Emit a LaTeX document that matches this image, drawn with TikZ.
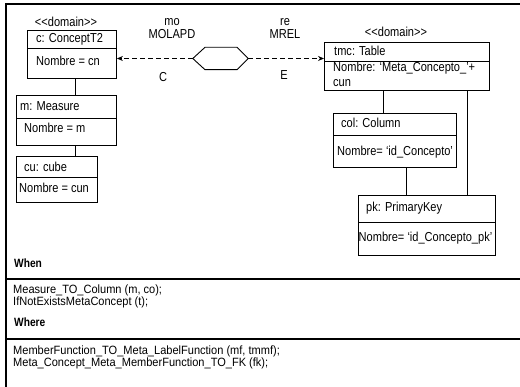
\documentclass[tikz,border=0pt]{standalone}
\usepackage{fontspec}
\setmainfont[FakeStretch=0.85]{Liberation Sans}
\newfontfamily\blockfont[FakeStretch=0.92]{Liberation Sans}
\usetikzlibrary{arrows.meta}
\tikzset{
  lbl/.style={anchor=base west, inner sep=0pt, font=\fontsize{13}{15}\selectfont},
  clbl/.style={anchor=base, inner sep=0pt, font=\fontsize{13}{15}\selectfont},
  rule/.style={anchor=base west, inner sep=0pt, font=\blockfont\fontsize{12}{13}\selectfont},
  head/.style={anchor=base west, inner sep=0pt, font=\fontsize{12}{14}\selectfont\bfseries},
  objbox/.style={draw, line width=0.9pt, anchor=north west, inner sep=0pt, minimum width=#1},
  link/.style={line width=0.9pt},
  dep/.style={line width=0.9pt, dash pattern=on 4.5pt off 3.5pt, -{Stealth[length=6pt,width=5pt]}},
  frame/.style={line width=1.2pt}
}
\newcommand{\stereo}{{<}{<}domain{>}{>}}
\begin{document}
\begin{tikzpicture}[x=1pt,y=-1pt]
\useasboundingbox (0,0) rectangle (520,387);

% outer frame and section rules
\draw[frame] (520,4) -- (6,4) -- (6,387);
\draw[frame] (6,279) -- (520,279);
\draw[frame] (6,339) -- (520,339);

% left-hand object group
\node[clbl] (dom1) at (66,27) {\stereo};
\node[objbox=89pt, minimum height=48pt] (c) at (27,30) {};
\draw[link] (c.west |- 0,48) -- (c.east |- 0,48);
\node[lbl] (cT) at (36,43) {c: ConceptT2};
\node[lbl] (cA) at (36,66) {Nombre = cn};

\node[objbox=100pt, minimum height=50pt] (m) at (16,95) {};
\draw[link] (m.west |- 0,118) -- (m.east |- 0,118);
\node[lbl] (mT) at (20,111) {m: Measure};
\node[lbl] (mA) at (24,133) {Nombre = m};

\node[objbox=81pt, minimum height=46pt] (cu) at (16,156) {};
\draw[link] (cu.west |- 0,177) -- (cu.east |- 0,177);
\node[lbl] (cuT) at (24,172) {cu: cube};
\node[lbl] (cuA) at (19,193) {Nombre = cun};

\draw[link] (75,0 |- c.south) -- (75,0 |- m.north);
\draw[link] (75,0 |- m.south) -- (75,0 |- cu.north);

% right-hand object group
\node[clbl] (dom2) at (396,37) {\stereo};
\node[objbox=165pt, minimum height=48pt] (tmc) at (324,42) {};
\draw[link] (tmc.west |- 0,61) -- (tmc.east |- 0,61);
\node[lbl] (tmcT) at (334,56) {tmc: Table};
\node[lbl] (tmcA) at (333,72) {Nombre: ‘Meta\_Concepto\_’+};
\node[lbl] (tmcB) at (333,87) {cun};

\node[objbox=123pt, minimum height=54pt] (col) at (333,113) {};
\draw[link] (col.west |- 0,135) -- (col.east |- 0,135);
\node[lbl] (colT) at (341,127.5) {col: Column};
\node[lbl] (colA) at (337,156) {Nombre= ‘id\_Concepto’};

\node[objbox=137pt, minimum height=60pt] (pk) at (358,195) {};
\draw[link] (pk.west |- 0,222) -- (pk.east |- 0,222);
\node[lbl] (pkT) at (366,212) {pk: PrimaryKey};
\node[lbl] (pkA) at (358.5,242) {Nombre= ‘id\_Concepto\_pk’};

\draw[link] (383,0 |- tmc.south) -- (383,0 |- col.north);
\draw[link] (467,0 |- tmc.south) -- (467,0 |- pk.north);
\draw[link] (406,0 |- col.south) -- (406,0 |- pk.north);

% relation between the two groups
\node[inner sep=0pt, minimum width=55pt, minimum height=22pt] (hex) at (220.5,58.5) {};
\draw[line width=0.9pt] (hex.west) -- (205,0 |- hex.north) -- (237,0 |- hex.north)
  -- (hex.east) -- (237,0 |- hex.south) -- (205,0 |- hex.south) -- cycle;
\draw[dep] (hex.west) -- (c.east |- hex.west);
\draw[dep] (hex.east) -- (tmc.west |- hex.east);

\node[clbl] (mo) at (172,26) {mo};
\node[clbl] (molapd) at (172,39) {MOLAPD};
\node[clbl] (re) at (285,26) {re};
\node[clbl] (mrel) at (285,39) {MREL};
\node[clbl] (lc) at (163,82) {C};
\node[clbl] (le) at (284,80) {E};

% When / Where sections
\node[head] (when) at (14,268) {When};
\node[rule] (w1) at (13,294) {Measure\_TO\_Column (m, co);};
\node[rule] (w2) at (13,305.5) {IfNotExistsMetaConcept (t);};
\node[head] (where) at (14,327) {Where};
\node[rule] (r1) at (13,355) {MemberFunction\_TO\_Meta\_LabelFunction (mf, tmmf);};
\node[rule] (r2) at (13,366.5) {Meta\_Concept\_Meta\_MemberFunction\_TO\_FK (fk);};
\end{tikzpicture}
\end{document}
